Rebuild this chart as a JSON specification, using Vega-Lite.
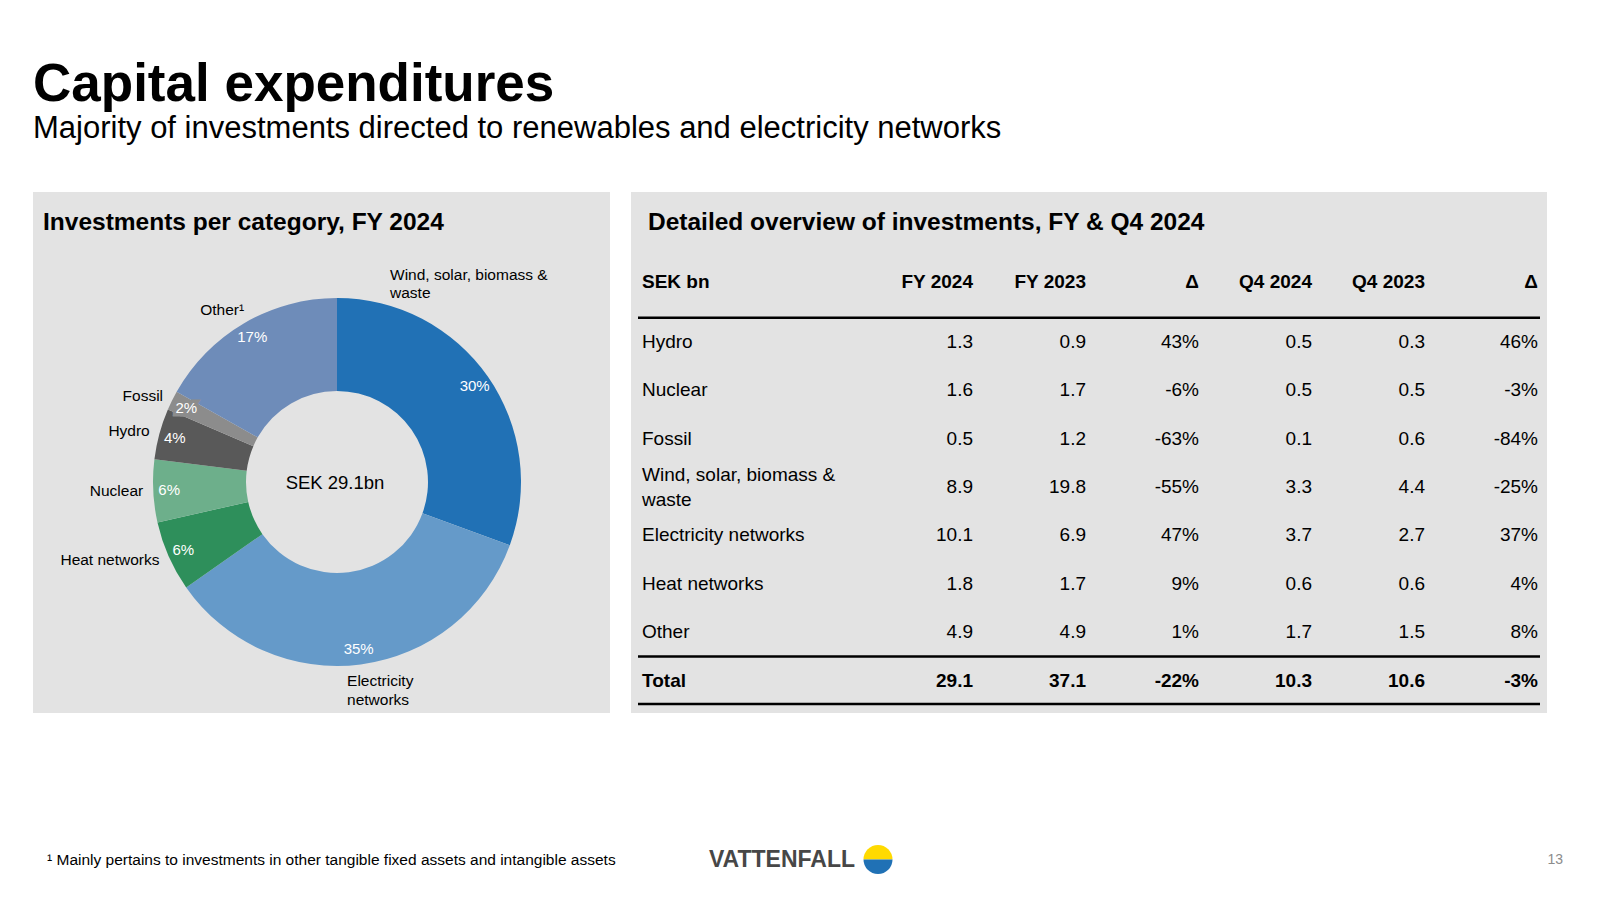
{
  "$schema": "https://vega.github.io/schema/vega-lite/v6.json",
  "background": "white",
  "padding": {"left": 33, "top": 58, "right": 0, "bottom": 0},
  "config": {"view": {"stroke": null}, "font": "Liberation Sans", "text": {"font": "Liberation Sans"}},
  "title": {
    "text": "Capital expenditures",
    "subtitle": "Majority of investments directed to renewables and electricity networks",
    "anchor": "start", "frame": "group",
    "font": "Liberation Sans", "fontSize": 53, "fontWeight": "bold", "color": "#000000",
    "subtitleFont": "Liberation Sans", "subtitleFontSize": 31, "subtitleColor": "#000000",
    "subtitlePadding": 2, "offset": 48.5
  },
  "datasets": {
    "pie": [
      {"idx": 1, "cat": "Wind, solar, biomass & waste", "label": "Wind, solar, biomass &\nwaste", "value": 8.9, "pct": "30%"},
      {"idx": 2, "cat": "Electricity networks", "label": "Electricity\nnetworks", "value": 10.1, "pct": "35%"},
      {"idx": 3, "cat": "Heat networks", "label": "Heat networks", "value": 1.8, "pct": "6%"},
      {"idx": 4, "cat": "Nuclear", "label": "Nuclear", "value": 1.6, "pct": "6%"},
      {"idx": 5, "cat": "Hydro", "label": "Hydro", "value": 1.3, "pct": "4%"},
      {"idx": 6, "cat": "Fossil", "label": "Fossil", "value": 0.5, "pct": "2%"},
      {"idx": 7, "cat": "Other", "label": "Other¹", "value": 4.9, "pct": "17%"}
    ],
    "centre": [{"text": "SEK 29.1bn"}],
    "table": [
      {"row": "header", "label": "SEK bn", "fy24": "FY 2024", "fy23": "FY 2023", "dfy": "Δ", "q424": "Q4 2024", "q423": "Q4 2023", "dq4": "Δ"},
      {"row": "hydro", "label": "Hydro", "fy24": "1.3", "fy23": "0.9", "dfy": "43%", "q424": "0.5", "q423": "0.3", "dq4": "46%"},
      {"row": "nuclear", "label": "Nuclear", "fy24": "1.6", "fy23": "1.7", "dfy": "-6%", "q424": "0.5", "q423": "0.5", "dq4": "-3%"},
      {"row": "fossil", "label": "Fossil", "fy24": "0.5", "fy23": "1.2", "dfy": "-63%", "q424": "0.1", "q423": "0.6", "dq4": "-84%"},
      {"row": "wind", "label": "Wind, solar, biomass &\nwaste", "fy24": "8.9", "fy23": "19.8", "dfy": "-55%", "q424": "3.3", "q423": "4.4", "dq4": "-25%"},
      {"row": "elec", "label": "Electricity networks", "fy24": "10.1", "fy23": "6.9", "dfy": "47%", "q424": "3.7", "q423": "2.7", "dq4": "37%"},
      {"row": "heat", "label": "Heat networks", "fy24": "1.8", "fy23": "1.7", "dfy": "9%", "q424": "0.6", "q423": "0.6", "dq4": "4%"},
      {"row": "other", "label": "Other", "fy24": "4.9", "fy23": "4.9", "dfy": "1%", "q424": "1.7", "q423": "1.5", "dq4": "8%"},
      {"row": "total", "label": "Total", "fy24": "29.1", "fy23": "37.1", "dfy": "-22%", "q424": "10.3", "q423": "10.6", "dq4": "-3%"}
    ],
    "footer": [
      {"item": "note", "text": "¹ Mainly pertains to investments in other tangible fixed assets and intangible assets"},
      {"item": "brand", "text": "VATTENFALL"},
      {"item": "page", "text": "13"}
    ],
    "logo": [
      {"half": "top", "share": 1},
      {"half": "bottom", "share": 1}
    ]
  },
  "resolve": {"scale": {"color": "independent"}},
  "vconcat": [
    {
      "hconcat": [
        {
          "width": 577, "height": 521,
          "view": {"fill": "#e3e3e3", "stroke": null},
          "title": {"text": "Investments per category, FY 2024", "anchor": "start", "frame": "group", "offset": -43, "dx": 10, "font": "Liberation Sans", "fontSize": 24.5, "fontWeight": "bold", "color": "#000000"},
          "data": {"name": "pie"},
          "layer": [
            {
              "mark": {"type": "arc", "innerRadius": 91, "outerRadius": 184, "xOffset": 15.5, "yOffset": 29.5},
              "encoding": {
                "theta": {"field": "value", "type": "quantitative", "stack": true},
                "order": {"field": "idx", "type": "quantitative"},
                "color": {"field": "cat", "type": "nominal", "legend": null,
                  "scale": {"domain": ["Wind, solar, biomass & waste", "Electricity networks", "Heat networks", "Nuclear", "Hydro", "Fossil", "Other"],
                            "range": ["#2171b5", "#659ac9", "#2e8f5b", "#6daf8b", "#595959", "#8c8c8c", "#6e8cb9"]}}
              }
            },
            {
              "mark": {"type": "text", "radius": 168, "xOffset": 15.5, "yOffset": 29.5, "fontSize": 15, "fill": "#8c8c8c", "stroke": "#8c8c8c", "strokeWidth": 7, "strokeJoin": "miter"},
              "encoding": {
                "theta": {"field": "value", "type": "quantitative", "stack": true},
                "order": {"field": "idx", "type": "quantitative"},
                "text": {"condition": {"test": "datum.cat === 'Fossil'", "field": "pct"}, "value": ""}
              }
            },
            {
              "mark": {"type": "text", "radius": 168, "xOffset": 15.5, "yOffset": 29.5, "fontSize": 15, "fill": "#ffffff"},
              "encoding": {
                "theta": {"field": "value", "type": "quantitative", "stack": true},
                "order": {"field": "idx", "type": "quantitative"},
                "text": {"field": "pct"}
              }
            },
            {
              "mark": {"type": "text", "radius": 194, "xOffset": 15.5, "yOffset": 29.5, "fontSize": 15.5, "fill": "#000000", "align": "right"},
              "encoding": {
                "theta": {"field": "value", "type": "quantitative", "stack": true},
                "order": {"field": "idx", "type": "quantitative"},
                "text": {"condition": {"test": "indexof(['Heat networks','Nuclear','Hydro','Fossil'], datum.cat) >= 0", "field": "label"}, "value": ""}
              }
            },
            {
              "mark": {"type": "text", "radius": 194, "xOffset": 15.5, "yOffset": 29.5, "dx": 5, "dy": -5, "fontSize": 15.5, "fill": "#000000", "align": "right"},
              "encoding": {
                "theta": {"field": "value", "type": "quantitative", "stack": true},
                "order": {"field": "idx", "type": "quantitative"},
                "text": {"condition": {"test": "datum.cat === 'Other'", "field": "label"}, "value": ""}
              }
            },
            {
              "mark": {"type": "text", "radius": 194, "xOffset": 15.5, "yOffset": 29.5, "dx": -106, "dy": -96, "fontSize": 15.5, "fill": "#000000", "align": "left", "lineBreak": "\n", "lineHeight": 18.4},
              "encoding": {
                "theta": {"field": "value", "type": "quantitative", "stack": true},
                "order": {"field": "idx", "type": "quantitative"},
                "text": {"condition": {"test": "datum.idx === 1", "field": "label"}, "value": ""}
              }
            },
            {
              "mark": {"type": "text", "radius": 194, "xOffset": 15.5, "yOffset": 29.5, "dx": -15, "dy": 7, "fontSize": 15.5, "fill": "#000000", "align": "left", "lineBreak": "\n", "lineHeight": 18.4},
              "encoding": {
                "theta": {"field": "value", "type": "quantitative", "stack": true},
                "order": {"field": "idx", "type": "quantitative"},
                "text": {"condition": {"test": "datum.idx === 2", "field": "label"}, "value": ""}
              }
            },
            {
              "data": {"name": "centre"},
              "mark": {"type": "text", "xOffset": 13.5, "yOffset": 30.5, "fontSize": 18.5, "fill": "#000000"},
              "encoding": {"text": {"field": "text"}}
            }
          ]
        },
        {
          "width": 916, "height": 521,
          "view": {"fill": "#e3e3e3", "stroke": null},
          "title": {"text": "Detailed overview of investments, FY & Q4 2024", "anchor": "start", "frame": "group", "offset": -43, "dx": 17, "font": "Liberation Sans", "fontSize": 24.5, "fontWeight": "bold", "color": "#000000"},
          "data": {"name": "table"},
          "layer": [
            {
              "transform": [{"filter": "datum.row !== 'header' && datum.row !== 'total'"}, {"fold": ["fy24", "fy23", "dfy", "q424", "q423", "dq4"], "as": ["col", "val"]}],
              "mark": {"type": "text", "align": "right", "fontSize": 19, "fill": "#000000"},
              "encoding": {
                "x": {"field": "col", "type": "nominal", "axis": null, "scale": {"type": "point", "domain": ["fy24", "fy23", "dfy", "q424", "q423", "dq4"], "range": [342, 907], "padding": 0}},
                "y": {"field": "row", "type": "nominal", "axis": null, "scale": {"type": "point", "domain": ["header", "hydro", "nuclear", "fossil", "wind", "elec", "heat", "other", "total"], "range": [101.4, 488.6], "padding": 0}},
                "text": {"field": "val"}
              }
            },
            {
              "transform": [{"filter": "datum.row === 'total'"}, {"fold": ["fy24", "fy23", "dfy", "q424", "q423", "dq4"], "as": ["col", "val"]}],
              "mark": {"type": "text", "align": "right", "fontSize": 19, "fontWeight": "bold", "fill": "#000000"},
              "encoding": {
                "x": {"field": "col", "type": "nominal", "axis": null},
                "y": {"field": "row", "type": "nominal", "axis": null},
                "text": {"field": "val"}
              }
            },
            {
              "transform": [{"filter": "datum.row === 'header'"}, {"fold": ["fy24", "fy23", "dfy", "q424", "q423", "dq4"], "as": ["col", "val"]}],
              "mark": {"type": "text", "align": "right", "fontSize": 19, "fontWeight": "bold", "fill": "#000000", "dy": -11},
              "encoding": {
                "x": {"field": "col", "type": "nominal", "axis": null},
                "y": {"field": "row", "type": "nominal", "axis": null},
                "text": {"field": "val"}
              }
            },
            {
              "transform": [{"filter": "datum.row !== 'header' && datum.row !== 'total' && datum.row !== 'wind'"}],
              "mark": {"type": "text", "align": "left", "x": 11, "fontSize": 19, "fill": "#000000"},
              "encoding": {
                "y": {"field": "row", "type": "nominal", "axis": null},
                "text": {"field": "label"}
              }
            },
            {
              "transform": [{"filter": "datum.row === 'wind'"}],
              "mark": {"type": "text", "align": "left", "x": 11, "dy": -12.5, "fontSize": 19, "fill": "#000000", "lineBreak": "\n", "lineHeight": 25},
              "encoding": {
                "y": {"field": "row", "type": "nominal", "axis": null},
                "text": {"field": "label"}
              }
            },
            {
              "transform": [{"filter": "datum.row === 'total'"}],
              "mark": {"type": "text", "align": "left", "x": 11, "fontSize": 19, "fontWeight": "bold", "fill": "#000000"},
              "encoding": {
                "y": {"field": "row", "type": "nominal", "axis": null},
                "text": {"field": "label"}
              }
            },
            {
              "transform": [{"filter": "datum.row === 'header'"}],
              "mark": {"type": "text", "align": "left", "x": 11, "dy": -11, "fontSize": 19, "fontWeight": "bold", "fill": "#000000"},
              "encoding": {
                "y": {"field": "row", "type": "nominal", "axis": null},
                "text": {"field": "label"}
              }
            },
            {
              "transform": [{"filter": "datum.row === 'hydro' || datum.row === 'total'"}],
              "mark": {"type": "rule", "x": 7, "x2": 909, "yOffset": -24, "strokeWidth": 2.5, "color": "#000000"},
              "encoding": {"y": {"field": "row", "type": "nominal", "axis": null}}
            },
            {
              "transform": [{"filter": "datum.row === 'total'"}],
              "mark": {"type": "rule", "x": 7, "x2": 909, "yOffset": 23.5, "strokeWidth": 2.5, "color": "#000000"},
              "encoding": {"y": {"field": "row", "type": "nominal", "axis": null}}
            }
          ]
        }
      ],
      "spacing": 21
    },
    {
      "width": 1530, "height": 40,
      "layer": [
        {
          "data": {"name": "footer"},
          "transform": [{"filter": "datum.item === 'note'"}],
          "mark": {"type": "text", "align": "left", "fontSize": 15.5, "fill": "#000000"},
          "encoding": {
            "x": {"field": "item", "type": "nominal", "axis": null, "scale": {"type": "point", "domain": ["note", "brand", "page"], "range": [14, 1530], "padding": 0}},
            "text": {"field": "text"}
          }
        },
        {
          "data": {"name": "footer"},
          "transform": [{"filter": "datum.item === 'brand'"}],
          "mark": {"type": "text", "align": "right", "dx": 50, "fontSize": 23, "fontWeight": "bold", "fill": "#474747"},
          "encoding": {
            "x": {"field": "item", "type": "nominal", "axis": null},
            "text": {"field": "text"}
          }
        },
        {
          "data": {"name": "footer"},
          "transform": [{"filter": "datum.item === 'page'"}],
          "mark": {"type": "text", "align": "right", "fontSize": 14, "fill": "#8c8c8c"},
          "encoding": {
            "x": {"field": "item", "type": "nominal", "axis": null},
            "text": {"field": "text"}
          }
        },
        {
          "data": {"name": "logo"},
          "mark": {"type": "arc", "outerRadius": 14.5, "xOffset": 73, "thetaOffset": -1.5708, "theta2Offset": -1.5708},
          "encoding": {
            "x": {"datum": "brand", "type": "nominal", "axis": null},
            "theta": {"field": "share", "type": "quantitative", "stack": true},
            "order": {"field": "half", "sort": "descending"},
            "color": {"field": "half", "type": "nominal", "legend": null, "scale": {"domain": ["top", "bottom"], "range": ["#ffda00", "#2071b5"]}}
          }
        }
      ]
    }
  ],
  "spacing": 126.5
}
